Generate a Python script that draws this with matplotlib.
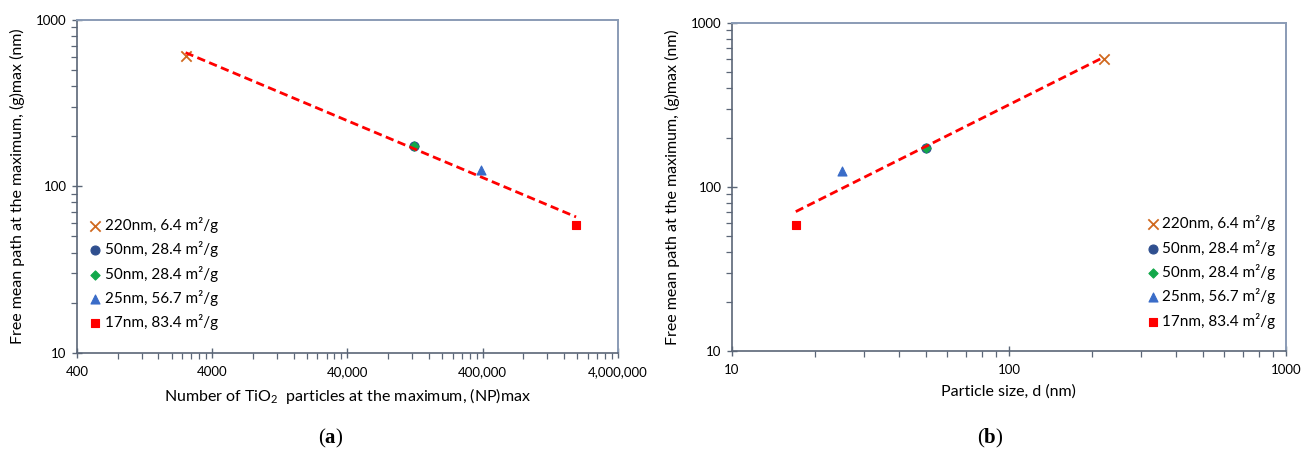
import numpy as np
import matplotlib
matplotlib.use("Agg")
import matplotlib.pyplot as plt
from matplotlib.ticker import FixedLocator, LogLocator, NullFormatter

plt.rcParams["font.family"] = ["Lato", "DejaVu Sans"]
plt.rcParams["mathtext.fontset"] = "custom"
plt.rcParams["mathtext.rm"] = "Lato"
plt.rcParams["mathtext.it"] = "Lato:italic"
plt.rcParams["mathtext.bf"] = "Liberation Serif:bold"

# samples: particle size, specific surface, particle count and mean free path at the maximum
labels = ["220nm, 6.4 m²/g", "50nm, 28.4 m²/g", "50nm, 28.4 m²/g",
          "25nm, 56.7 m²/g", "17nm, 83.4 m²/g"]
d_nm = [220, 50, 50, 25, 17]
np_max = [2540, 124000, 124000, 391000, 1960000]
g_max = [603, 174, 174, 125, 58.5]

markers = ["x", "o", "D", "^", "s"]
colors = ["#d0691f", "#2f4f8f", "#12a84a", "#3a6cc8", "#ff0000"]
sizes = [55, 42, 22, 42, 40]

x_ticks_a = [400, 4000, 40000, 400000, 4000000]
x_ticklabels_a = ["400", "4000", "40,000", "400,000", "4,000,000"]
x_ticks_b = [10, 100, 1000]
y_ticks = [10, 100, 1000]

YLABEL = "Free mean path at the maximum, (g)max (nm)"


def power_fit(x, y):
    # straight line in log-log space, spanning the data range
    k, b = np.polyfit(np.log10(x), np.log10(y), 1)
    xs = np.array([min(x), max(x)])
    return xs, 10 ** (k * np.log10(xs) + b)


def style_axes(ax):
    ax.set_xscale("log")
    ax.set_yscale("log")
    ax.set_ylim(10, 1000)
    for s in ("left", "bottom"):
        ax.spines[s].set_color("#5b6677")
        ax.spines[s].set_linewidth(1.2)
    for s in ("top", "right"):
        ax.spines[s].set_color("#8a9bb5")
        ax.spines[s].set_linewidth(1.4)
    ax.yaxis.set_major_locator(FixedLocator(y_ticks))
    ax.set_yticklabels([str(t) for t in y_ticks])
    ax.yaxis.set_minor_locator(LogLocator(base=10, subs=np.arange(2, 10)))
    ax.yaxis.set_minor_formatter(NullFormatter())
    ax.xaxis.set_minor_locator(LogLocator(base=10, subs=np.arange(2, 10), numticks=20))
    ax.xaxis.set_minor_formatter(NullFormatter())
    ax.tick_params(which="major", direction="inout", length=7, width=1.0,
                   color="#5b6677", labelsize=9.5, pad=4)
    ax.tick_params(which="minor", direction="out", length=4, width=0.9, color="#5b6677")
    ax.tick_params(axis="x", which="major", pad=6)
    ax.set_ylabel(YLABEL, fontsize=11.5, labelpad=8)


def scatter_series(ax, xs):
    for x, y, m, c, s, lab in zip(xs, g_max, markers, colors, sizes, labels):
        ax.scatter([x], [y], marker=m, color=c, s=s, linewidths=1.3 if m == "x" else 0.8,
                   edgecolors=None if m == "x" else c, label=lab, zorder=3)
    fx, fy = power_fit(xs, g_max)
    ax.plot(fx, fy, color="#ff0000", lw=2.0, ls=(0, (3, 1.6)), zorder=4)


legend_kw = dict(frameon=False, fontsize=11, handletextpad=0.1, labelspacing=0.55,
                 handlelength=1.0, borderaxespad=0.3, scatterpoints=1)

fig = plt.figure(figsize=(13.01, 4.5), dpi=100)

ax_a = fig.add_axes([0.0592, 0.216, 0.4158, 0.740])
style_axes(ax_a)
scatter_series(ax_a, np_max)
ax_a.set_xlim(400, 4000000)
ax_a.xaxis.set_major_locator(FixedLocator(x_ticks_a))
ax_a.set_xticklabels(x_ticklabels_a)
# decades start at 400, so the minor ticks are multiples of each major tick
ax_a.xaxis.set_minor_locator(FixedLocator([t * k for t in x_ticks_a[:-1] for k in range(2, 10)]))
ax_a.set_xlabel("Number of TiO$_2$  particles at the maximum, (NP)max", fontsize=11.5, labelpad=6)
ax_a.legend(loc="lower left", bbox_to_anchor=(0.0, 0.035), **legend_kw)

ax_b = fig.add_axes([0.5626, 0.220, 0.4258, 0.729])
style_axes(ax_b)
scatter_series(ax_b, d_nm)
ax_b.set_xlim(10, 1000)
ax_b.xaxis.set_major_locator(FixedLocator(x_ticks_b))
ax_b.set_xticklabels([str(t) for t in x_ticks_b])
ax_b.set_xlabel("Particle size, d (nm)", fontsize=11.5, labelpad=6)
ax_b.legend(loc="lower right", bbox_to_anchor=(1.0, 0.035), **legend_kw)

for xc, letter in ((0.254, "a"), (0.761, "b")):
    fig.text(xc, 0.0, "(" + r"$\mathbf{" + letter + "}$" + ")", ha="center", va="bottom",
             fontsize=15, family=["Liberation Serif", "DejaVu Serif"])

fig.savefig("out.png", dpi=100)
